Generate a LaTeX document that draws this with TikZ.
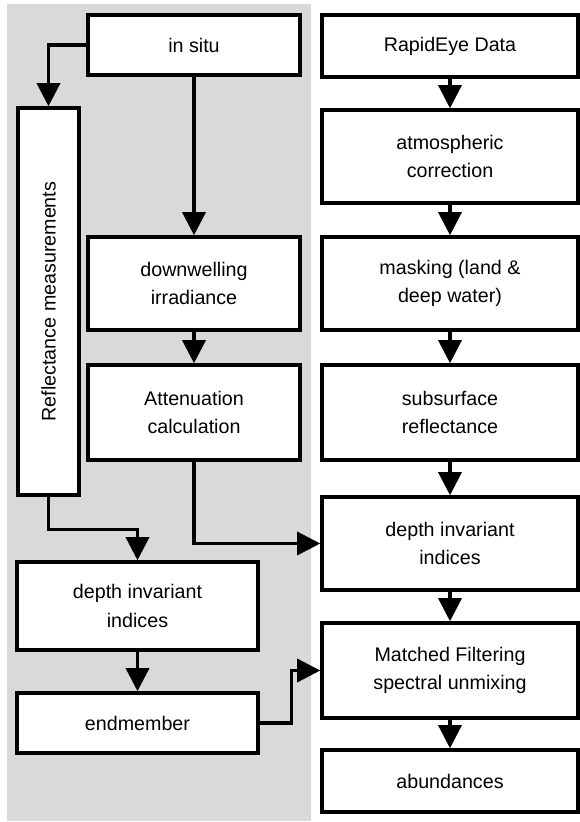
\documentclass[tikz,border=0pt]{standalone}
\usepackage{fontspec}
\setmainfont{Liberation Sans}
\usepackage{graphicx}
\usepackage{tikz}
\usetikzlibrary{positioning,arrows.meta,calc}
\definecolor{ink}{HTML}{000000}
\definecolor{panel}{HTML}{D9D9D9}
\tikzset{
  flow/.style={-{Triangle[length=0.58cm,width=0.58cm]}, line width=2.3pt, color=ink},
  blk/.style={rectangle, draw=ink, fill=white, line width=2.5pt, align=center,
    font=\fontsize{14}{20}\selectfont, inner sep=2pt, text=ink},
  lbox/.style={blk, minimum width=5.3cm},
  rbox/.style={blk, minimum width=6.4cm},
  wbox/.style={blk, minimum width=6.025cm},
}

\begin{document}
\begin{tikzpicture}
  \useasboundingbox (0,0) rectangle (14.5,-20.55);
  \fill[panel] (0.175,-0.1) rectangle (7.775,-20.525);
  % in situ branch
  \node[lbox, minimum height=1.5cm]   (insitu) at (4.85,-1.125)   {in situ};
  \node[blk, minimum width=1.525cm, minimum height=9.675cm] (refl) at (1.2125,-7.5375)
    {\rotatebox{90}{Reflectance measurements}};
  \node[lbox, minimum height=2.325cm] (down)   at (4.85,-7.0875)  {downwelling\\irradiance};
  \node[lbox, minimum height=2.375cm] (atten)  at (4.85,-10.3125) {Attenuation\\calculation};
  \node[wbox, minimum height=2.2cm]   (dil)    at (3.4375,-15.15) {depth invariant\\indices};
  \node[wbox, minimum height=1.5cm]   (endm)   at (3.4375,-18.075) {endmember};
  % image branch
  \node[rbox, minimum height=1.55cm]  (rapid)  at (11.25,-1.15)    {RapidEye Data};
  \node[rbox, minimum height=2.325cm] (atmo)   at (11.25,-3.9125)  {atmospheric\\correction};
  \node[rbox, minimum height=2.325cm] (mask)   at (11.25,-7.0875)  {masking (land \&\\deep water)};
  \node[rbox, minimum height=2.375cm] (subs)   at (11.25,-10.3125) {subsurface\\reflectance};
  \node[rbox, minimum height=2.325cm] (dir)    at (11.25,-13.5875) {depth invariant\\indices};
  \node[rbox, minimum height=2.375cm] (match)  at (11.25,-16.7625) {Matched Filtering\\spectral unmixing};
  \node[rbox, minimum height=1.55cm]  (abund)  at (11.25,-19.525)  {abundances};

  \draw[flow] (insitu.west) -| (refl.north);
  \draw[flow] (insitu) -- (down);
  \draw[flow] (down) -- (atten);
  \draw[flow] (atten.south) |- (dir.west);
  \draw[flow] (refl.south) -- ++(0,-0.825) -| (dil.north);
  \draw[flow] (dil) -- (endm);
  \draw[flow] (endm.east) -- ++(0.8,0) |- (match.west);
  \foreach \a/\b in {rapid/atmo, atmo/mask, mask/subs, subs/dir, dir/match, match/abund}
    \draw[flow] (\a) -- (\b);
\end{tikzpicture}
\end{document}
